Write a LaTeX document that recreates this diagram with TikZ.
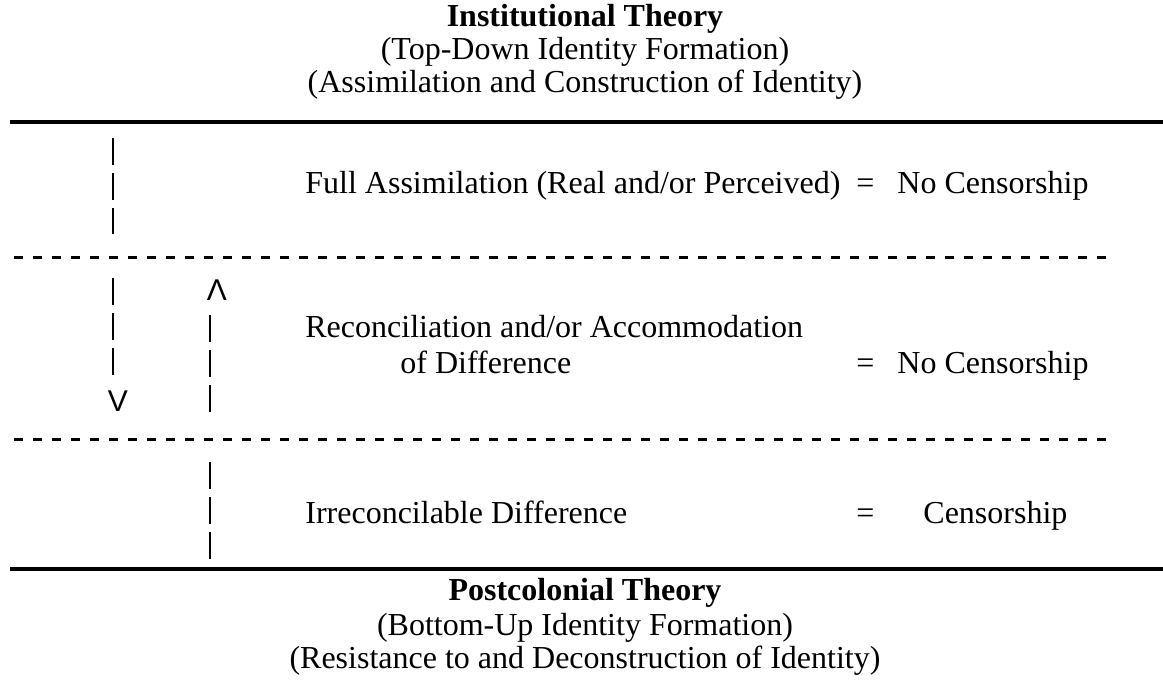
\documentclass[tikz,border=0pt]{standalone}
\usepackage{fontspec}
\setmainfont{Liberation Serif}
\newfontfamily\arrowfont{Liberation Sans}
\begin{document}
\begin{tikzpicture}[x=0.5pt,y=-0.5pt,
  txt/.style={inner sep=0pt,font=\fontsize{16pt}{19pt}\selectfont},
  ttl/.style={txt,anchor=base},
  lbl/.style={txt,anchor=base west},
  tip/.style={inner sep=0pt,font=\arrowfont\fontsize{15pt}{18pt}\selectfont},
  thickrule/.style={line width=2pt},
  dashrule/.style={line width=1.5pt,dash pattern=on 4.5pt off 5pt},
  vdash/.style={line width=1pt,dash pattern=on 13.5pt off 4pt}]
\useasboundingbox (0,0) rectangle (1163,682);
% titles
\node[ttl,font=\bfseries\fontsize{16pt}{19pt}\selectfont] (t1) at (585,26) {Institutional Theory};
\node[ttl] (t2) at (585,59) {(Top-Down Identity Formation)};
\node[ttl] (t3) at (585,92) {(Assimilation and Construction of Identity)};
\node[ttl,font=\bfseries\fontsize{16pt}{19pt}\selectfont] (b1) at (585,600) {Postcolonial Theory};
\node[ttl] (b2) at (585,635) {(Bottom-Up Identity Formation)};
\node[ttl] (b3) at (585,668) {(Resistance to and Deconstruction of Identity)};
% rules
\coordinate (rtl) at (10,122); \coordinate (rtr) at (1163,122);
\coordinate (rbl) at (10,569); \coordinate (rbr) at (1163,569);
\coordinate (d1l) at (14,257); \coordinate (d1r) at (1108,257);
\coordinate (d2l) at (14,439); \coordinate (d2r) at (1108,439);
\draw[thickrule] (rtl) -- (rtr);
\draw[thickrule] (rbl) -- (rbr);
\draw[dashrule] (d1l) -- (d1r);
\draw[dashrule] (d2l) -- (d2r);
% row labels
\node[lbl] (r1) at (305,193) {Full Assimilation (Real and/or Perceived)};
\node[lbl] (e1) at (856,193) {=};
\node[lbl] (c1) at (897,193) {No Censorship};
\node[lbl] (r2a) at (305,337) {Reconciliation and/or Accommodation};
\node[lbl] (r2b) at (400,373) {of Difference};
\node[lbl] (e2) at (856,373) {=};
\node[lbl] (c2) at (897,373) {No Censorship};
\node[lbl] (r3) at (305,523) {Irreconcilable Difference};
\node[lbl] (e3) at (856,523) {=};
\node[lbl] (c3) at (923,523) {Censorship};
% vertical dashed indicators
\coordinate (a1t) at (113,138); \coordinate (a1b) at (113,234);
\draw[vdash] (a1t) -- (a1b);
\coordinate (a2t) at (113,278); \coordinate (a2b) at (113,382);
\draw[vdash] (a2t) -- (a2b);
\node[tip] (vdown) at (118,401) {V};
\node[tip] (vup) at (217,290) {Λ};
\coordinate (a3t) at (210,315); \coordinate (a3b) at (210,418);
\draw[vdash] (a3t) -- (a3b);
\coordinate (a4t) at (210,462); \coordinate (a4b) at (210,567);
\draw[vdash] (a4t) -- (a4b);
\end{tikzpicture}
\end{document}
